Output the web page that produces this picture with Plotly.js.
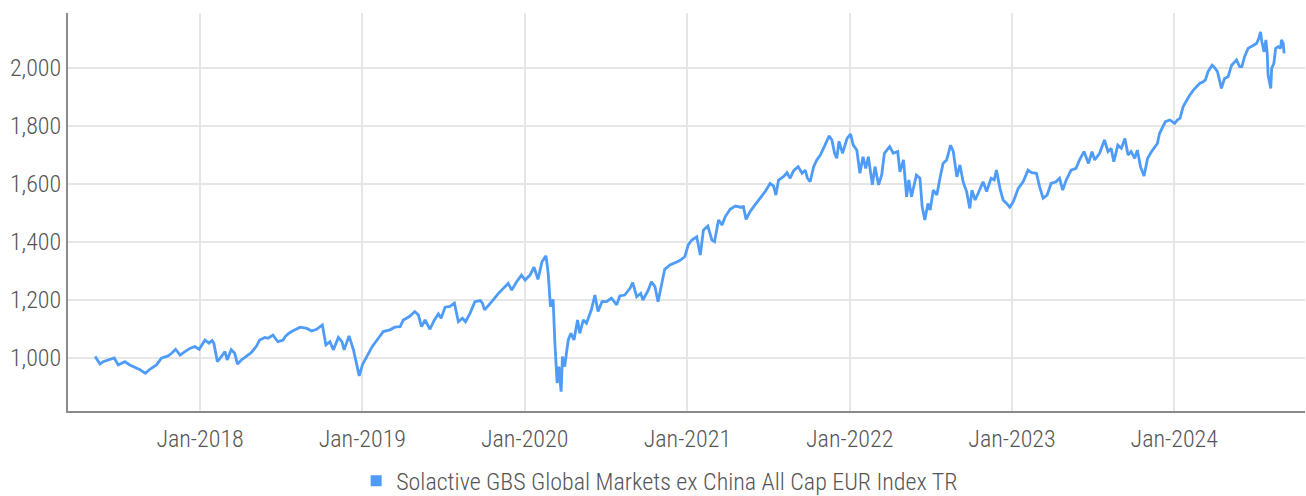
<!DOCTYPE html>
<html>
<head>
<meta charset="utf-8">
<script src="https://cdn.plot.ly/plotly-3.0.1.min.js"></script>
<style>html,body{margin:0;padding:0;background:#fff;}#chart{width:1306px;height:496px;}</style>
</head>
<body>
<div id="chart"></div>
<script>
const seriesName = "Solactive GBS Global Markets ex China All Cap EUR Index TR";

const dates = [
"2017-05-10","2017-05-21","2017-05-28","2017-06-08","2017-06-22","2017-07-01","2017-07-16","2017-07-27","2017-08-07","2017-08-19","2017-08-31","2017-09-10","2017-09-25","2017-10-06","2017-10-21","2017-10-29","2017-11-07","2017-11-17","2017-11-28","2017-12-09","2017-12-20","2017-12-30",
"2018-01-12","2018-01-21","2018-01-28","2018-02-01","2018-02-09","2018-02-18","2018-02-26","2018-03-03","2018-03-12","2018-03-20","2018-03-26","2018-04-04","2018-04-15","2018-04-26","2018-05-08","2018-05-15","2018-05-27","2018-06-03","2018-06-14","2018-06-25","2018-07-07","2018-07-11","2018-07-18","2018-07-26","2018-08-14","2018-08-29","2018-09-09","2018-09-20","2018-10-03","2018-10-11","2018-10-20","2018-10-28","2018-11-08","2018-11-16","2018-11-21","2018-12-02","2018-12-12","2018-12-19","2018-12-25",
"2019-01-01","2019-01-11","2019-01-23","2019-02-06","2019-02-17","2019-03-04","2019-03-15","2019-03-27","2019-04-03","2019-04-16","2019-04-29","2019-05-07","2019-05-14","2019-05-22","2019-06-02","2019-06-12","2019-06-21","2019-06-27","2019-07-06","2019-07-17","2019-07-27","2019-08-05","2019-08-14","2019-08-21","2019-08-31","2019-09-11","2019-09-23","2019-09-28","2019-10-03","2019-10-19","2019-11-03","2019-11-14","2019-11-25","2019-12-03","2019-12-14","2019-12-25",
"2020-01-02","2020-01-13","2020-01-22","2020-01-31","2020-02-09","2020-02-18","2020-02-23","2020-02-28","2020-03-05","2020-03-09","2020-03-14","2020-03-18","2020-03-23","2020-03-26","2020-03-31","2020-04-08","2020-04-14","2020-04-21","2020-04-29","2020-05-04","2020-05-12","2020-05-19","2020-05-30","2020-06-07","2020-06-14","2020-06-23","2020-07-03","2020-07-14","2020-07-26","2020-08-02","2020-08-13","2020-08-25","2020-08-31","2020-09-09","2020-09-18","2020-09-23","2020-10-05","2020-10-12","2020-10-20","2020-10-27","2020-11-04","2020-11-11","2020-11-23","2020-12-04","2020-12-15","2020-12-26",
"2021-01-03","2021-01-11","2021-01-22","2021-01-30","2021-02-06","2021-02-16","2021-02-25","2021-03-03","2021-03-12","2021-03-20","2021-03-27","2021-04-07","2021-04-19","2021-04-30","2021-05-07","2021-05-13","2021-05-22","2021-06-02","2021-06-14","2021-06-25","2021-07-06","2021-07-14","2021-07-19","2021-07-25","2021-08-05","2021-08-13","2021-08-20","2021-08-28","2021-09-07","2021-09-16","2021-09-23","2021-09-28","2021-10-04","2021-10-12","2021-10-19","2021-10-27","2021-11-03","2021-11-16","2021-11-22","2021-11-28","2021-12-03","2021-12-08","2021-12-16","2021-12-26",
"2022-01-03","2022-01-09","2022-01-17","2022-01-24","2022-01-31","2022-02-06","2022-02-12","2022-02-21","2022-02-27","2022-03-07","2022-03-14","2022-03-20","2022-04-01","2022-04-09","2022-04-19","2022-04-24","2022-05-02","2022-05-09","2022-05-14","2022-05-20","2022-05-31","2022-06-08","2022-06-13","2022-06-19","2022-06-26","2022-07-01","2022-07-08","2022-07-16","2022-07-23","2022-07-30","2022-08-07","2022-08-16","2022-08-22","2022-08-30","2022-09-06","2022-09-13","2022-09-21","2022-09-28","2022-10-03","2022-10-10","2022-10-17","2022-10-28","2022-11-05","2022-11-15","2022-11-22","2022-11-27","2022-12-05","2022-12-12","2022-12-20","2022-12-27",
"2023-01-04","2023-01-15","2023-01-26","2023-02-06","2023-02-14","2023-02-25","2023-03-04","2023-03-12","2023-03-21","2023-03-30","2023-04-10","2023-04-18","2023-04-25","2023-05-03","2023-05-14","2023-05-25","2023-06-02","2023-06-12","2023-06-22","2023-06-30","2023-07-06","2023-07-17","2023-07-28","2023-08-05","2023-08-12","2023-08-18","2023-08-27","2023-09-04","2023-09-12","2023-09-19","2023-09-26","2023-10-04","2023-10-10","2023-10-17","2023-10-25","2023-11-02","2023-11-11","2023-11-18","2023-11-24","2023-11-29","2023-12-07","2023-12-12","2023-12-22",
"2024-01-02","2024-01-08","2024-01-14","2024-01-21","2024-01-29","2024-02-05","2024-02-13","2024-02-20","2024-02-27","2024-03-06","2024-03-11","2024-03-17","2024-03-26","2024-04-02","2024-04-07","2024-04-16","2024-04-23","2024-05-01","2024-05-09","2024-05-20","2024-05-27","2024-06-01","2024-06-07","2024-06-15","2024-06-26","2024-07-04","2024-07-09","2024-07-13","2024-07-16","2024-07-21","2024-07-25","2024-07-28","2024-07-30","2024-08-05","2024-08-07","2024-08-12","2024-08-16","2024-08-22","2024-08-27","2024-08-29","2024-09-02","2024-09-04"
];

const values = [
1005,979,987,993,1000,976,987,976,968,959,947,961,976,999,1007,1016,1030,1010,1022,1033,1039,1030,
1062,1051,1060,1051,987,1005,1022,993,1028,1016,979,993,1005,1018,1041,1062,1071,1068,1079,1056,1062,1073,1083,1091,1106,1102,1093,1099,1114,1045,1056,1028,1071,1056,1028,1076,1028,982,938,
976,1005,1039,1068,1091,1097,1106,1108,1131,1142,1160,1148,1108,1131,1099,1131,1152,1137,1175,1178,1189,1125,1137,1125,1154,1194,1198,1189,1166,1194,1223,1240,1257,1234,1263,1286,
1269,1286,1313,1271,1332,1352,1292,1177,1202,1051,913,970,884,1005,970,1062,1085,1062,1131,1085,1131,1120,1166,1217,1160,1194,1194,1206,1183,1214,1217,1240,1260,1211,1223,1200,1234,1263,1246,1194,1257,1306,1321,1329,1336,1349,
1390,1407,1418,1355,1441,1455,1407,1401,1476,1459,1487,1513,1524,1520,1522,1478,1505,1528,1551,1574,1602,1593,1562,1614,1625,1639,1620,1646,1660,1637,1648,1620,1608,1660,1683,1700,1723,1766,1752,1706,1689,1747,1706,1757,
1772,1734,1717,1637,1694,1654,1694,1597,1660,1597,1631,1706,1729,1706,1712,1642,1683,1556,1614,1556,1631,1620,1522,1476,1533,1510,1579,1562,1620,1671,1683,1734,1712,1625,1666,1608,1574,1516,1579,1545,1568,1608,1574,1620,1614,1648,1585,1545,1533,1520,
1539,1585,1608,1648,1639,1637,1591,1551,1562,1602,1608,1620,1579,1614,1648,1654,1683,1712,1671,1712,1683,1706,1752,1712,1723,1677,1734,1723,1757,1700,1712,1689,1717,1660,1628,1689,1712,1729,1740,1775,1798,1815,1821,
1809,1821,1827,1867,1890,1907,1924,1936,1947,1953,1959,1988,2010,1999,1988,1930,1964,1970,2010,2028,2005,2005,2039,2068,2079,2085,2102,2125,2091,2056,2097,2051,1976,1930,1999,2016,2068,2074,2068,2097,2085,2051
];

const xTickVals = ["2018-01-01","2019-01-01","2020-01-01","2021-01-01","2022-01-01","2023-01-01","2024-01-01"];
const xTickText = ["Jan-2018","Jan-2019","Jan-2020","Jan-2021","Jan-2022","Jan-2023","Jan-2024"];
const yTickVals = [1000,1200,1400,1600,1800,2000];

const lineColor = "#4e9cf7";
const fontFam = "'Roboto Condensed', Roboto, 'Liberation Sans Narrow', sans-serif";
const textFont = {family: fontFam, size: 24, color: "#555555", weight: 300};

const traces = [
  {x: dates, y: values, type: "scatter", mode: "lines", name: seriesName,
   line: {color: lineColor, width: 2.8}, showlegend: false, hoverinfo: "x+y"},
  {x: [null], y: [null], type: "scatter", mode: "markers", name: seriesName,
   marker: {symbol: "square", size: 11, color: lineColor}, showlegend: true}
];

const layout = {
  width: 1306, height: 496,
  margin: {l: 68, r: 1, t: 13, b: 85, autoexpand: false},
  paper_bgcolor: "#ffffff", plot_bgcolor: "#ffffff",
  font: textFont,
  xaxis: {
    type: "date",
    range: ["2017-03-10", "2024-10-21"],
    tickvals: xTickVals, ticktext: xTickText,
    showgrid: true, gridcolor: "#e6e6e6", gridwidth: 2,
    showline: true, linecolor: "#8a8a8a", linewidth: 2,
    ticks: "", zeroline: false, ticklabelstandoff: 5, automargin: false,
    tickfont: textFont
  },
  yaxis: {
    range: [817, 2190],
    tickvals: yTickVals, tickformat: ",d",
    showgrid: true, gridcolor: "#e6e6e6", gridwidth: 2,
    showline: true, linecolor: "#8a8a8a", linewidth: 2,
    ticks: "", zeroline: false, automargin: false,
    tickfont: textFont
  },
  legend: {orientation: "h", x: 0.4783, xanchor: "center", y: -0.176, yanchor: "middle",
           font: textFont, bgcolor: "rgba(0,0,0,0)", tracegroupgap: 0},
  showlegend: true
};

Plotly.newPlot("chart", traces, layout, {displayModeBar: false, staticPlot: true});
</script>
</body>
</html>
